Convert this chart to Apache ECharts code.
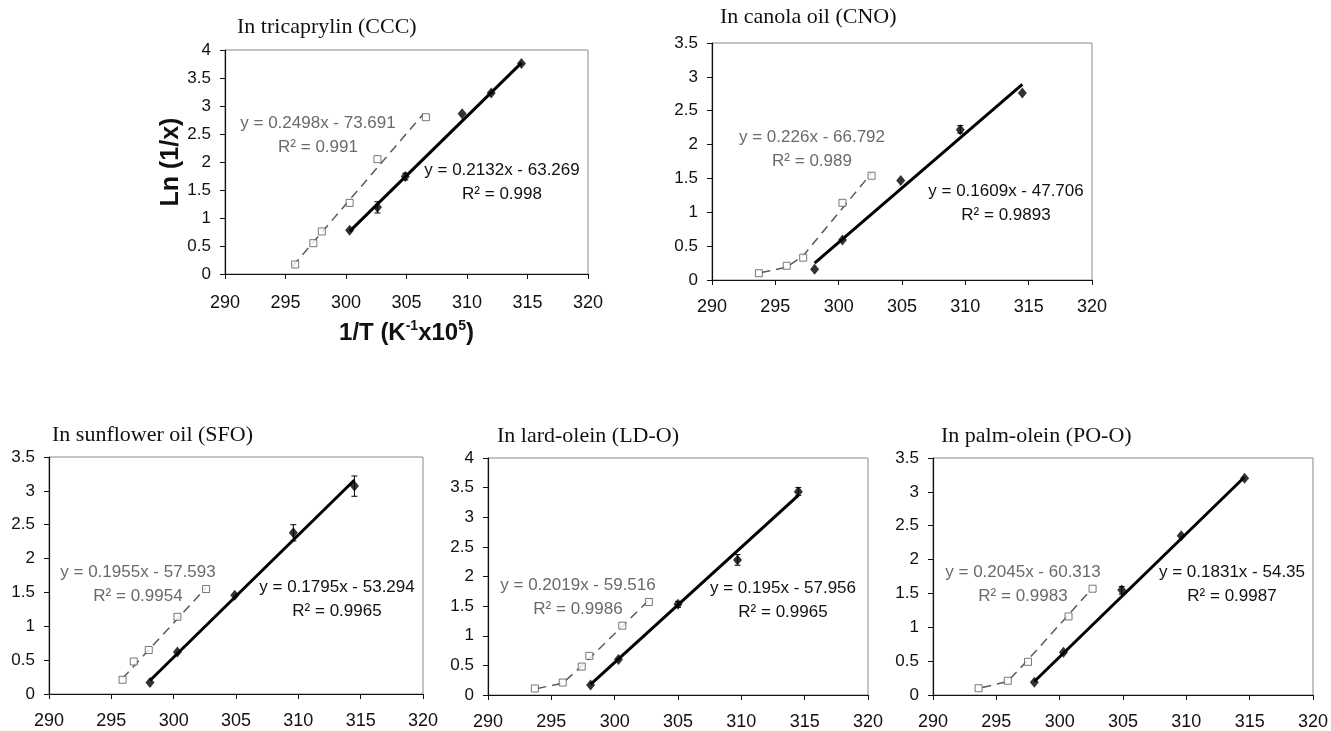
<!DOCTYPE html>
<html><head><meta charset="utf-8">
<script src="https://cdn.jsdelivr.net/npm/echarts@6/dist/echarts.min.js"></script>
<style>html,body{margin:0;padding:0;background:#fff}#c{width:1331px;height:731px}</style>
</head><body><div id="c"></div>
<script>
// ---- data (x = 1/T ×10^5, y = Ln(1/x)) ----
const xTickMin = 290, xTickMax = 320, xTickStep = 5;

const cccOpen = [[295.8,0.17],[297.3,0.55],[298.0,0.76],[300.3,1.27],[302.6,2.05],[306.6,2.80]];
const cccSolid = [[300.3,0.78],[302.6,1.19],[304.9,1.74],[309.6,2.86],[312.0,3.23],[314.5,3.76]];
const cccErr = [[302.6,1.09,1.29],[304.9,1.68,1.80]];
const cccSolidFit = [[300.3,0.76],[314.5,3.77]];
const cccOpenFit = [[295.6,0.14],[306.4,2.86]];

const cnoOpen = [[293.7,0.10],[295.9,0.21],[297.2,0.33],[300.3,1.14],[302.6,1.54]];
const cnoSolid = [[298.1,0.16],[300.3,0.59],[304.9,1.47],[309.6,2.22],[314.5,2.76]];
const cnoErr = [[309.6,2.17,2.28]];
const cnoSolidFit = [[298.1,0.25],[314.5,2.89]];
const cnoOpenFit = [[293.9,0.11],[295.9,0.19],[297.2,0.36],[302.6,1.58]];

const sfoOpen = [[295.9,0.21],[296.8,0.48],[298.0,0.65],[300.3,1.14],[302.6,1.55]];
const sfoSolid = [[298.1,0.17],[300.3,0.62],[304.9,1.46],[309.6,2.38],[314.5,3.07]];
const sfoErr = [[309.6,2.26,2.50],[314.5,2.92,3.22]];
const sfoSolidFit = [[298.1,0.20],[314.5,3.16]];
const sfoOpenFit = [[295.9,0.23],[302.6,1.57]];

const ldOpen = [[293.7,0.11],[295.9,0.21],[297.4,0.48],[298.0,0.66],[300.6,1.17],[302.7,1.57]];
const ldSolid = [[298.1,0.17],[300.3,0.60],[305.0,1.53],[309.7,2.28],[314.5,3.43]];
const ldErr = [[309.7,2.19,2.37],[314.5,3.37,3.50],[305.0,1.48,1.58]];
const ldSolidFit = [[298.1,0.18],[314.5,3.37]];
const ldOpenFit = [[293.9,0.11],[295.9,0.20],[297.3,0.47],[302.7,1.60]];

const poOpen = [[293.6,0.10],[295.9,0.21],[297.5,0.49],[300.7,1.16],[302.6,1.57]];
const poSolid = [[298.0,0.19],[300.3,0.63],[304.9,1.55],[309.6,2.35],[314.6,3.20]];
const poErr = [[304.9,1.49,1.60]];
const poSolidFit = [[298.0,0.20],[314.6,3.22]];
const poOpenFit = [[293.9,0.11],[295.9,0.20],[297.4,0.50],[302.5,1.56]];

const titles = ['In tricaprylin (CCC)','In canola oil (CNO)','In sunflower oil (SFO)','In lard-olein (LD-O)','In palm-olein (PO-O)'];
const yMaxes = [4, 3.5, 3.5, 4, 3.5];
const openEq = ['y = 0.2498x - 73.691','y = 0.226x - 66.792','y = 0.1955x - 57.593','y = 0.2019x - 59.516','y = 0.2045x - 60.313'];
const openR2 = ['R² = 0.991','R² = 0.989','R² = 0.9954','R² = 0.9986','R² = 0.9983'];
const solidEq = ['y = 0.2132x - 63.269','y = 0.1609x - 47.706','y = 0.1795x - 53.294','y = 0.195x - 57.956','y = 0.1831x - 54.35'];
const solidR2 = ['R² = 0.998','R² = 0.9893','R² = 0.9965','R² = 0.9965','R² = 0.9987'];

const panelData = [
  {open: cccOpen, solid: cccSolid, err: cccErr, sFit: cccSolidFit, oFit: cccOpenFit},
  {open: cnoOpen, solid: cnoSolid, err: cnoErr, sFit: cnoSolidFit, oFit: cnoOpenFit},
  {open: sfoOpen, solid: sfoSolid, err: sfoErr, sFit: sfoSolidFit, oFit: sfoOpenFit},
  {open: ldOpen, solid: ldSolid, err: ldErr, sFit: ldSolidFit, oFit: ldOpenFit},
  {open: poOpen, solid: poSolid, err: poErr, sFit: poSolidFit, oFit: poOpenFit}
];

// ---- layout (pixels) ----
const layout = [
  {grid:{left:225,top:50,width:363,height:224}, title:[237,27], oEq:[318,123], sEq:[502,170], xm:20},
  {grid:{left:712,top:43,width:380,height:237}, title:[720,17], oEq:[812,137], sEq:[1006,191], xm:18},
  {grid:{left:49,top:457,width:374,height:237}, title:[52,435], oEq:[138,572], sEq:[337,587], xm:18},
  {grid:{left:488,top:458,width:380,height:237}, title:[497,436], oEq:[578,585], sEq:[783,588], xm:18},
  {grid:{left:933,top:458,width:380,height:237}, title:[941,436], oEq:[1023,572], sEq:[1232,572], xm:18}
];

const SANS = 'Liberation Sans, Arial, sans-serif';
const SERIF = 'Liberation Serif, Times New Roman, serif';

function errItem(params, api) {
  const x = api.value(0);
  const p1 = api.coord([x, api.value(1)]);
  const p2 = api.coord([x, api.value(2)]);
  const st = {stroke:'#000', lineWidth:1};
  return {type:'group', children:[
    {type:'line', shape:{x1:p1[0],y1:p1[1],x2:p2[0],y2:p2[1]}, style:st},
    {type:'line', shape:{x1:p1[0]-3,y1:p1[1],x2:p1[0]+3,y2:p1[1]}, style:st},
    {type:'line', shape:{x1:p2[0]-3,y1:p2[1],x2:p2[0]+3,y2:p2[1]}, style:st}
  ]};
}

const grids = [], xAxes = [], yAxes = [], series = [], graphics = [];
layout.forEach((L, i) => {
  grids.push(Object.assign({show:true, borderColor:'#8a8a8a', borderWidth:1, containLabel:false}, L.grid));
  xAxes.push({
    gridIndex:i, type:'value', min:xTickMin, max:xTickMax, interval:xTickStep,
    axisLine:{show:true, onZero:false, lineStyle:{color:'#111', width:1.2}},
    axisTick:{show:true, length:5, lineStyle:{color:'#111'}},
    splitLine:{show:false},
    axisLabel:{color:'#111', fontSize:18, fontFamily:SANS, margin:L.xm},
    name: i === 0 ? '{a|1/T (K}{s|-1}{a|x10}{s|5}{a|)}' : '',
    nameLocation:'middle', nameGap:45,
    nameTextStyle:{rich:{
      a:{fontSize:24, fontWeight:'bold', fontFamily:SANS, color:'#111', lineHeight:28},
      s:{fontSize:14, fontWeight:'bold', fontFamily:SANS, color:'#111', verticalAlign:'top', lineHeight:14}
    }}
  });
  yAxes.push({
    gridIndex:i, type:'value', min:0, max:yMaxes[i], interval:0.5,
    axisLine:{show:true, lineStyle:{color:'#111', width:1.2}},
    axisTick:{show:true, length:5, lineStyle:{color:'#111'}},
    splitLine:{show:false},
    axisLabel:{color:'#111', fontSize:17, fontFamily:SANS, margin:14},
    name: i === 0 ? 'Ln (1/x)' : '',
    nameLocation:'middle', nameGap:40, nameRotate:90,
    nameTextStyle:{fontSize:25, fontWeight:'bold', fontFamily:SANS, color:'#111'}
  });
  const D = panelData[i];
  series.push({type:'line', xAxisIndex:i, yAxisIndex:i, data:D.oFit, showSymbol:false, silent:true,
    lineStyle:{color:'#5a5a5a', width:1.5, type:[9,6]}, z:2});
  series.push({type:'line', xAxisIndex:i, yAxisIndex:i, data:D.sFit, showSymbol:false, silent:true,
    lineStyle:{color:'#000', width:3}, z:2});
  series.push({type:'custom', xAxisIndex:i, yAxisIndex:i, data:D.err, renderItem:errItem,
    encode:{x:0, y:[1,2]}, z:3});
  series.push({type:'scatter', xAxisIndex:i, yAxisIndex:i, data:D.open, symbol:'rect', symbolSize:7,
    itemStyle:{color:'#fff', borderColor:'#555', borderWidth:1}, z:4});
  series.push({type:'scatter', xAxisIndex:i, yAxisIndex:i, data:D.solid, symbol:'diamond', symbolSize:[9,11],
    itemStyle:{color:'#000'}, z:5});

  graphics.push({type:'text', x:L.title[0], y:L.title[1],
    style:{text:titles[i], font:'22px ' + SERIF, fill:'#111', align:'left', verticalAlign:'middle'}});
  graphics.push({type:'text', x:L.oEq[0], y:L.oEq[1] - 12,
    style:{text:openEq[i] + '\n' + openR2[i], font:'17px ' + SANS, fill:'#6a6a6a', align:'center', verticalAlign:'top', lineHeight:24}});
  graphics.push({type:'text', x:L.sEq[0], y:L.sEq[1] - 12,
    style:{text:solidEq[i] + '\n' + solidR2[i], font:'17px ' + SANS, fill:'#111', align:'center', verticalAlign:'top', lineHeight:24}});
});

const chart = echarts.init(document.getElementById('c'));
chart.setOption({
  backgroundColor:'#fff',
  animation:false,
  grid:grids, xAxis:xAxes, yAxis:yAxes, series:series, graphic:graphics
});
</script></body></html>
